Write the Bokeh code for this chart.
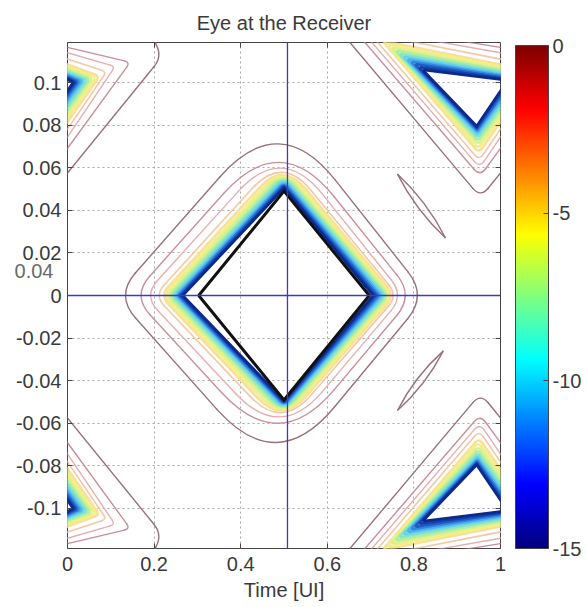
import math
from bokeh.plotting import figure
from bokeh.models import (Span, ColorBar, LinearColorMapper, FixedTicker, Range1d, LinearAxis)
from bokeh.embed import file_html
from bokeh.resources import INLINE

# ---------------- values ----------------
title_text = "Eye at the Receiver"
x_axis_label = "Time [UI]"
x_ticks = [0, 0.2, 0.4, 0.6, 0.8, 1]
x_tick_labels = ["0", "0.2", "0.4", "0.6", "0.8", "1"]
y_ticks = [-0.1, -0.08, -0.06, -0.04, -0.02, 0, 0.02, 0.04, 0.06, 0.08, 0.1]
y_tick_labels = ["-0.1", "-0.08", "-0.06", "-0.04", "-0.02", "0",
                 "0.02", "0.04", "0.06", "0.08", "0.1"]
x_limits = [0.0, 1.0]
y_limits = [-0.1188, 0.1188]
cbar_ticks = [-15, -10, -5, 0]
cbar_tick_labels = ["-15", "-10", "-5", "0"]
cbar_limits = [-15, 0]
stray_text = "0.04"
stray_text_y = 0.0113
crosshair_x = 0.508
crosshair_y = 0.0

# contour levels (log10 BER)
levels = [-1, -2, -3, -4, -5, -6, -7, -8, -9, -10, -11, -12, -13, -14, -15]

# central eye: extreme points of each contour
eye_left_x = [0.134, 0.170, 0.192, 0.212, 0.224, 0.230, 0.236, 0.241, 0.246, 0.250, 0.254, 0.257, 0.260, 0.263, 0.266]
eye_right_x = [0.808, 0.780, 0.762, 0.752, 0.746, 0.742, 0.738, 0.734, 0.730, 0.726, 0.722, 0.718, 0.714, 0.710, 0.706]
eye_top_x = [0.487, 0.490, 0.493, 0.495, 0.497, 0.498, 0.498, 0.499, 0.499, 0.500, 0.500, 0.500, 0.500, 0.500, 0.500]
eye_top_y = [0.0712, 0.0625, 0.0598, 0.0578, 0.0565, 0.0558, 0.0551, 0.0544, 0.0537, 0.0531, 0.0525, 0.0519, 0.0514, 0.0509, 0.0505]
eye_bottom_x = [0.482, 0.487, 0.490, 0.493, 0.495, 0.496, 0.497, 0.498, 0.499, 0.499, 0.500, 0.500, 0.500, 0.500, 0.500]
eye_bottom_y = [-0.0690, -0.0600, -0.0570, -0.0550, -0.0540, -0.0534, -0.0528, -0.0522, -0.0517, -0.0512, -0.0508, -0.0504, -0.0500, -0.0497, -0.0494]

# upper lobe between eyes (x measured past 1, repeats at x-1), lower lobe is its mirror
lobe_a_x = [0.620, 0.648, 0.674, 0.699, 0.728, 0.738, 0.748, 0.757, 0.766, 0.775, 0.784, 0.793, 0.802, 0.811, 0.820]
lobe_a_y = [0.1266, 0.1280, 0.1257, 0.1230, 0.1195, 0.1180, 0.1165, 0.1150, 0.1135, 0.1122, 0.1110, 0.1098, 0.1087, 0.1073, 0.1060]
lobe_b_x = [0.954, 0.953, 0.952, 0.951, 0.950, 0.949, 0.949, 0.948, 0.948, 0.947, 0.947, 0.946, 0.946, 0.945, 0.945]
lobe_b_y = [0.0460, 0.0560, 0.0600, 0.0635, 0.0670, 0.0690, 0.0710, 0.0727, 0.0742, 0.0755, 0.0766, 0.0775, 0.0783, 0.0790, 0.0795]
lobe_c_x = [1.220, 1.145, 1.110, 1.090, 1.074, 1.066, 1.058, 1.051, 1.045, 1.039, 1.033, 1.027, 1.022, 1.017, 1.013]
lobe_c_y = [0.1125, 0.1095, 0.1075, 0.1050, 0.1030, 0.1025, 0.1020, 0.1016, 0.1013, 0.1010, 0.1008, 0.1006, 0.1004, 0.1002, 0.1000]
lobe_d_x = [1.170, 1.000, 1.000, 1.000, 1.000, 1.000, 1.000, 1.000, 1.000, 1.000, 1.000, 1.000, 1.000, 1.000, 1.000]
lobe_d_y = [0.1300, 0.1165, 0.1140, 0.1110, 0.1085, 0.1075, 0.1065, 0.1057, 0.1050, 0.1043, 0.1037, 0.1031, 0.1025, 0.1020, 0.1015]

# thin closed loops of the outermost level
loop_x0 = [0.762, 0.762]
loop_y0 = [0.057, -0.054]
loop_x1 = [0.873, 0.868]
loop_y1 = [0.027, -0.026]

# eye mask
mask_x = [0.303, 0.500, 0.697, 0.500]
mask_y = [0.0, 0.049, 0.0, -0.049]

# ---------------- styles ----------------
level_colors = ["#98707e", "#c78f9b", "#e5afb2", "#f2c9a6", "#f9df98", "#f3ef86", "#d6f28e",
                "#aeeda4", "#86e4c4", "#66d3ea", "#4fb0ee", "#3485dd", "#1f5dc6", "#1440ab", "#0c2a8c"]
level_widths = [1.4, 1.4, 1.4, 1.6, 2.6, 2.6, 2.6, 2.6, 2.6, 2.6, 2.6, 2.6, 2.6, 2.6, 2.8]
eye_side_round = [30, 26, 20, 14, 12, 10, 8, 6, 5, 4, 3, 2, 1, 0, 0]
eye_tb_round = [90, 85, 65, 45, 35, 28, 22, 17, 13, 10, 7, 5, 3, 1, 0]
lobe_a_round = [0, 0, 0, 0, 3, 3, 3, 3, 3, 3, 3, 3, 3, 3, 3]
lobe_b_round = [12, 9, 8, 7, 6, 5, 4, 3, 3, 2, 2, 1, 1, 0, 0]
lobe_c_round = [14, 6, 5, 5, 5, 4, 4, 3, 3, 3, 2, 2, 2, 1, 1]
FONT = "Liberation Sans"
FS = "20px"
TXT = "#3a3a3a"
CROSS = "#3a3ad2"

FRAME_W, FRAME_H = 433, 506
SX = FRAME_W / (x_limits[1] - x_limits[0])
SY = FRAME_H / (y_limits[1] - y_limits[0])


def to_px(x, y):
    return (x * SX, y * SY)


def unit(ax, ay):
    l = math.hypot(ax, ay)
    return (ax / l, ay / l) if l else (0.0, 0.0)


def solve_corners(pts, radii, iters=40):
    """virtual polygon corners so that rounded corners pass through the read extremes"""
    obs = [to_px(x, y) for x, y in pts]
    V = list(obs)
    n = len(V)
    for _ in range(iters):
        nv = []
        for i in range(n):
            u1 = unit(V[i - 1][0] - V[i][0], V[i - 1][1] - V[i][1])
            u2 = unit(V[(i + 1) % n][0] - V[i][0], V[(i + 1) % n][1] - V[i][1])
            d = radii[i]
            nv.append((obs[i][0] - 0.25 * d * (u1[0] + u2[0]),
                       obs[i][1] - 0.25 * d * (u1[1] + u2[1])))
        V = nv
    return V


def shape_parts(Vpx, radii, dx=0.0, ysign=1.0):
    n = len(Vpx)
    S, E = [], []
    for i in range(n):
        vx, vy = Vpx[i]
        qx, qy = Vpx[i - 1]
        nx, ny = Vpx[(i + 1) % n]
        l1 = math.hypot(qx - vx, qy - vy)
        l2 = math.hypot(nx - vx, ny - vy)
        d = min(radii[i], 0.45 * l1, 0.45 * l2)
        S.append((vx + d * (qx - vx) / l1, vy + d * (qy - vy) / l1))
        E.append((vx + d * (nx - vx) / l2, vy + d * (ny - vy) / l2))

    def back(pt):
        return (pt[0] / SX + dx, ysign * pt[1] / SY)

    seg = dict(x0=[], y0=[], x1=[], y1=[])
    quad = dict(x0=[], y0=[], x1=[], y1=[], cx=[], cy=[])
    for i in range(n):
        a = back(E[i])
        b = back(S[(i + 1) % n])
        seg["x0"].append(a[0]); seg["y0"].append(a[1])
        seg["x1"].append(b[0]); seg["y1"].append(b[1])
        if radii[i] > 0:
            s = back(S[i]); e = back(E[i]); c = back(Vpx[i])
            quad["x0"].append(s[0]); quad["y0"].append(s[1])
            quad["x1"].append(e[0]); quad["y1"].append(e[1])
            quad["cx"].append(c[0]); quad["cy"].append(c[1])
    return seg, quad


def merge(parts):
    out = {}
    for d in parts:
        for k, v in d.items():
            out.setdefault(k, []).extend(v)
    return out


def jet(t):
    c = lambda v: max(0.0, min(1.0, v))
    r = c(1.5 - abs(4 * t - 3)); g = c(1.5 - abs(4 * t - 2)); b = c(1.5 - abs(4 * t - 1))
    return "#%02x%02x%02x" % (int(r * 255), int(g * 255), int(b * 255))


jet256 = [jet(i / 255) for i in range(256)]

p = figure(frame_width=FRAME_W, frame_height=FRAME_H,
           x_range=Range1d(*x_limits), y_range=Range1d(*y_limits),
           output_backend="svg", toolbar_location=None, title=title_text,
           min_border_left=67, min_border_right=20, min_border_top=42, min_border_bottom=59)
p.background_fill_color = "white"
p.border_fill_color = "white"
p.outline_line_color = "#454545"
p.outline_line_width = 1

p.title.align = "center"
p.title.text_font = FONT
p.title.text_font_size = FS
p.title.text_font_style = "normal"
p.title.text_color = TXT
p.title.standoff = 17

for ax in (p.xaxis[0], p.yaxis[0]):
    ax.axis_line_color = None
    ax.major_tick_in = 5
    ax.major_tick_out = 0
    ax.minor_tick_line_color = None
    ax.major_tick_line_color = "#454545"
    ax.major_label_text_font = FONT
    ax.major_label_text_font_size = FS
    ax.major_label_text_color = TXT
p.xaxis.ticker = FixedTicker(ticks=x_ticks)
p.yaxis.ticker = FixedTicker(ticks=y_ticks)
p.xaxis.major_label_overrides = {t: l for t, l in zip(x_ticks, x_tick_labels)}
p.yaxis.major_label_overrides = {t: l for t, l in zip(y_ticks, y_tick_labels)}
p.xaxis.axis_label = x_axis_label
p.xaxis.axis_label_text_font = FONT
p.xaxis.axis_label_text_font_size = FS
p.xaxis.axis_label_text_font_style = "normal"
p.xaxis.axis_label_text_color = TXT
p.xaxis.axis_label_standoff = 5
p.xaxis.major_label_standoff = 8
p.yaxis.major_label_standoff = 6

# box ticks on the top and right edges (no labels)
for side, ticks in (("above", x_ticks), ("right", y_ticks)):
    bax = LinearAxis(ticker=FixedTicker(ticks=ticks),
                     major_label_overrides={t: "" for t in ticks},
                     axis_line_color=None, major_tick_in=5, major_tick_out=0,
                     minor_tick_line_color=None, major_tick_line_color="#454545",
                     major_label_standoff=0, major_label_text_font_size="1px")
    p.add_layout(bax, side)

# stray "0.04" text left of the y tick labels
stray_axis = LinearAxis(ticker=FixedTicker(ticks=[stray_text_y]),
                        major_label_overrides={stray_text_y: stray_text},
                        axis_line_color=None, major_tick_line_color=None,
                        minor_tick_line_color=None, major_label_standoff=-47,
                        major_label_text_font=FONT, major_label_text_font_size=FS,
                        major_label_text_color="#6a6a6a")
p.add_layout(stray_axis, "left")

for g in (p.xgrid[0], p.ygrid[0]):
    g.grid_line_color = "#a8a8a8"
    g.grid_line_dash = "2 3"
    g.grid_line_width = 1
p.xgrid.ticker = FixedTicker(ticks=x_ticks)
p.ygrid.ticker = FixedTicker(ticks=y_ticks)

# ---- contours, outermost level first ----
for i, lev in enumerate(levels):
    segs, quads = [], []
    pts = [(eye_left_x[i], 0.0), (eye_top_x[i], eye_top_y[i]),
           (eye_right_x[i], 0.0), (eye_bottom_x[i], eye_bottom_y[i])]
    radii = [eye_side_round[i], eye_tb_round[i], eye_side_round[i], eye_tb_round[i]]
    V = solve_corners(pts, radii)
    s, q = shape_parts(V, radii)
    segs.append(s); quads.append(q)

    lobe = [to_px(lobe_b_x[i], lobe_b_y[i]), to_px(lobe_c_x[i], lobe_c_y[i]),
            to_px(lobe_d_x[i], lobe_d_y[i]), to_px(lobe_a_x[i], lobe_a_y[i])]
    lr = [lobe_b_round[i], lobe_c_round[i], 0, lobe_a_round[i]]
    for dx in (0.0, -1.0):
        for ys in (1.0, -1.0):
            s, q = shape_parts(lobe, lr, dx, ys)
            segs.append(s); quads.append(q)
    S = merge(segs); Q = merge(quads)
    col, w = level_colors[i], level_widths[i]
    p.segment(x0="x0", y0="y0", x1="x1", y1="y1", source=S,
              line_color=col, line_width=w, line_cap="round")
    if Q:
        p.quadratic(x0="x0", y0="y0", x1="x1", y1="y1", cx="cx", cy="cy", source=Q,
                    line_color=col, line_width=w, line_cap="round")

# thin loops of level -1
lq = dict(x0=[], y0=[], x1=[], y1=[], cx=[], cy=[])
for x0, y0, x1, y1 in zip(loop_x0, loop_y0, loop_x1, loop_y1):
    ax_, ay_ = to_px(x0, y0); bx_, by_ = to_px(x1, y1)
    ux, uy = unit(bx_ - ax_, by_ - ay_)
    mx, my = (ax_ + bx_) / 2, (ay_ + by_) / 2
    for sgn in (1, -1):
        cxp, cyp = mx - sgn * 7 * uy, my + sgn * 7 * ux
        lq["x0"].append(x0); lq["y0"].append(y0)
        lq["x1"].append(x1); lq["y1"].append(y1)
        lq["cx"].append(cxp / SX); lq["cy"].append(cyp / SY)
p.quadratic(x0="x0", y0="y0", x1="x1", y1="y1", cx="cx", cy="cy", source=lq,
            line_color=level_colors[0], line_width=1.4)

# eye mask
p.line(mask_x + mask_x[:1], mask_y + mask_y[:1], line_color="#111111",
       line_width=3, line_join="miter")

# crosshair lines
p.add_layout(Span(location=crosshair_x, dimension="height", line_color=CROSS, line_width=1.3))
p.add_layout(Span(location=crosshair_y, dimension="width", line_color=CROSS, line_width=1.3))

mapper = LinearColorMapper(palette=jet256, low=cbar_limits[0], high=cbar_limits[1])
cb = ColorBar(color_mapper=mapper, ticker=FixedTicker(ticks=cbar_ticks),
              major_label_overrides={t: l for t, l in zip(cbar_ticks, cbar_tick_labels)},
              width=33, height=503, padding=0, margin=0, location=(15, 0),
              major_label_text_font=FONT, major_label_text_font_size=FS,
              major_label_text_color=TXT, bar_line_color="#454545",
              major_tick_line_color="#454545", major_tick_in=5, label_standoff=4,
              background_fill_color=None, border_line_color=None)
p.add_layout(cb, "right")

open("out.html", "w").write(file_html(p, INLINE))
